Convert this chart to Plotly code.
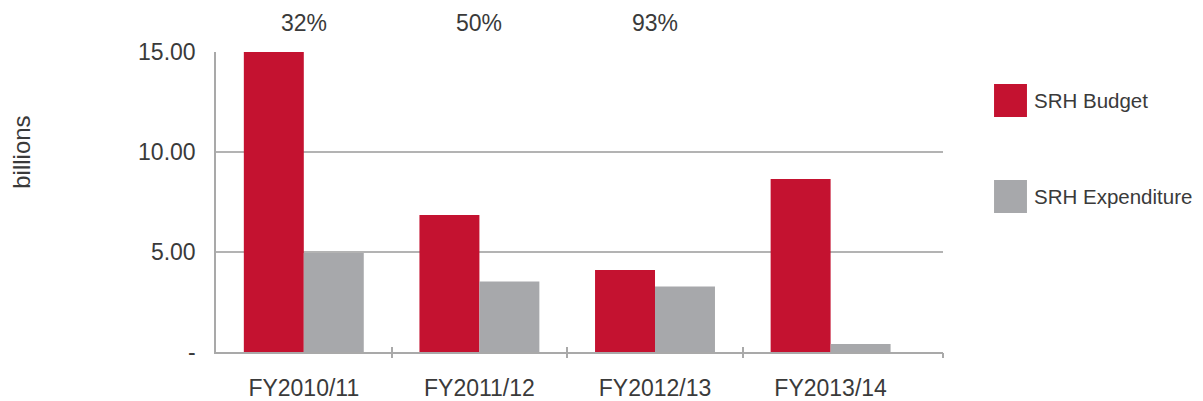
import plotly.graph_objects as go

categories = ["FY2010/11", "FY2011/12", "FY2012/13", "FY2013/14"]
budget = [15.0, 6.85, 4.1, 8.65]
expenditure = [4.95, 3.53, 3.27, 0.4]
pct_labels = ["32%", "50%", "93%"]
series_names = ["SRH Budget", "SRH Expenditure"]
y_tickvals = [0, 5, 10, 15]
y_ticktext = ["-", "5.00", "10.00", "15.00"]

RED = "#C41230"
GRAY = "#A7A8AB"
TXT = "#3a3a3a"
LINE = "#a9a9a9"
FONT = "Liberation Sans"

fig = go.Figure()
fig.add_trace(go.Bar(x=categories, y=budget, name=series_names[0], marker_color=RED,
                     marker_line_width=0, showlegend=False))
fig.add_trace(go.Bar(x=categories, y=expenditure, name=series_names[1], marker_color=GRAY,
                     marker_line_width=0, showlegend=False))

xr = [-0.5, 3.64]
# page body has an 8px margin: figure is sized/positioned to compensate
fig.update_layout(
    width=1195, height=393,
    margin=dict(l=208, r=260, t=44, b=49, autoexpand=False),
    paper_bgcolor="white", plot_bgcolor="white",
    barmode="group", bargap=0.317, bargroupgap=0,
    font=dict(family=FONT, size=22, color=TXT),
    xaxis=dict(range=xr, showline=True, linecolor=LINE, linewidth=1.5, ticks="",
               showgrid=False, ticklabelstandoff=15, automargin=False,
               tickfont=dict(size=23, color=TXT)),
    xaxis2=dict(range=xr, overlaying="x", side="bottom", showline=False, automargin=False,
                tickmode="array", tickvals=[0.5, 1.5, 2.5, xr[1]], showticklabels=False,
                ticks="outside", ticklen=5, tickwidth=1.5, tickcolor=LINE, showgrid=False,
                zeroline=False),
    xaxis3=dict(range=xr, overlaying="x", side="bottom", showline=False, automargin=False,
                tickmode="array", tickvals=[0.5, 1.5, 2.5, xr[1]], showticklabels=False,
                ticks="inside", ticklen=5, tickwidth=1.5, tickcolor=LINE, showgrid=False,
                zeroline=False),
    yaxis=dict(range=[0, 15], tickmode="array", tickvals=y_tickvals, ticktext=y_ticktext,
               showline=True, linecolor=LINE, linewidth=1.5, showgrid=True,
               gridcolor="#b3b3b3", gridwidth=1.5, zeroline=False, ticks="",
               automargin=False, ticklabelstandoff=14, tickfont=dict(size=23, color=TXT)),
)
# dummy traces to activate overlay axes
fig.add_trace(go.Scatter(x=[None], y=[None], xaxis="x2", showlegend=False, hoverinfo="skip"))
fig.add_trace(go.Scatter(x=[None], y=[None], xaxis="x3", showlegend=False, hoverinfo="skip"))

for cat, lab in zip(categories, pct_labels):
    fig.add_annotation(x=cat, xref="x", y=1.0983, yref="paper", text=lab, showarrow=False,
                       font=dict(size=23, color=TXT), xanchor="center", yanchor="middle")

fig.add_annotation(x=-0.267, xref="paper", y=0.667, yref="paper", text="billions",
                   textangle=-90, showarrow=False, xanchor="center", yanchor="middle",
                   font=dict(size=24, color=TXT))

# custom legend
legend_items = [(series_names[0], RED, 0.838), (series_names[1], GRAY, 0.518)]
for name, col, yc in legend_items:
    fig.add_shape(type="rect", xref="paper", yref="paper", x0=1.0702, x1=1.1155,
                  y0=yc - 0.055, y1=yc + 0.055, fillcolor=col, line_width=0)
    fig.add_annotation(x=1.1225, xref="paper", y=yc, yref="paper", text=name,
                       xanchor="left", yanchor="middle", showarrow=False,
                       font=dict(size=20.5, color=TXT))

fig.write_html("out.html")
